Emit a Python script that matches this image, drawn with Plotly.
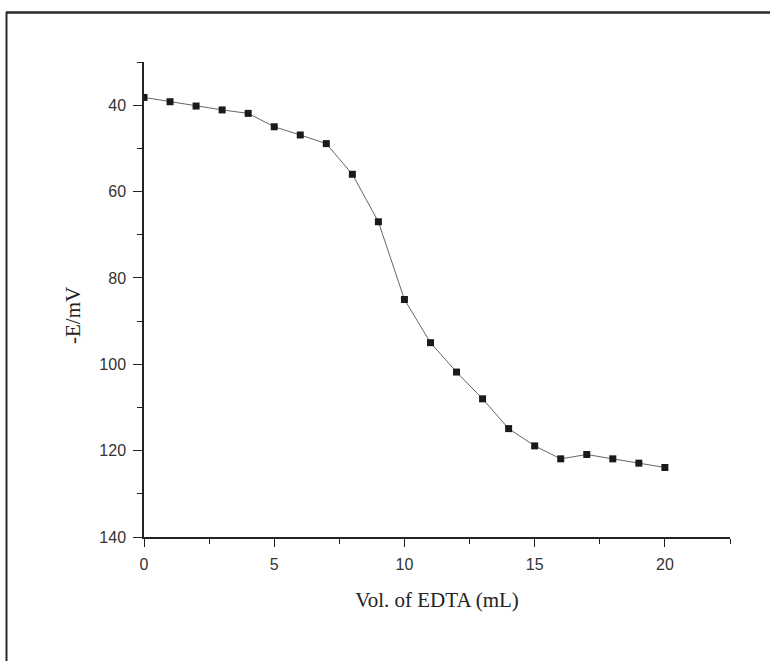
import plotly.graph_objects as go

vol_ml = [0, 1, 2, 3, 4, 5, 6, 7, 8, 9, 10, 11, 12, 13, 14, 15, 16, 17, 18, 19, 20]
neg_e_mv = [38.2, 39.2, 40.2, 41.1, 41.9, 45.0, 46.9, 48.9, 56.0, 67.0, 85.0, 95.0, 101.8, 108.0, 114.9, 118.9, 121.9, 120.9, 121.9, 122.9, 123.9]
x_ticks = [0, 5, 10, 15, 20]
y_ticks = [40, 60, 80, 100, 120, 140]

W, H = 770, 661
L, R, T, B = 144, 40, 62, 124

fig = go.Figure()
fig.add_trace(go.Scatter(
    x=vol_ml, y=neg_e_mv, mode="lines+markers",
    line=dict(color="#666666", width=1),
    marker=dict(symbol="square", size=7, color="#1a1a1a"),
    showlegend=False,
))

axis_font = dict(family="Liberation Sans, Arial, sans-serif", size=16, color="#333333")
title_font = dict(family="Liberation Serif, Times New Roman, serif", size=21, color="#222222")

fig.update_layout(
    width=W, height=H,
    margin=dict(l=L, r=R, t=T, b=B, pad=0),
    paper_bgcolor="white", plot_bgcolor="white",
    xaxis=dict(
        range=[0, 22.5], tickvals=x_ticks, ticks="outside", ticklen=8, tickwidth=1.2,
        tickcolor="#222222", showline=True, linecolor="#222222", linewidth=1.5,
        showgrid=False, zeroline=False, tickfont=axis_font, ticklabelstandoff=4,
        minor=dict(tickvals=[2.5, 7.5, 12.5, 17.5, 22.5], ticks="outside", ticklen=5, tickcolor="#222222"),
        title=dict(text="Vol. of EDTA (mL)", font=title_font, standoff=20),
    ),
    yaxis=dict(
        range=[140, 30], tickvals=y_ticks, ticks="outside", ticklen=9, tickwidth=1.2,
        tickcolor="#222222", showline=True, linecolor="#222222", linewidth=1.5,
        showgrid=False, zeroline=False, tickfont=axis_font, ticklabelstandoff=4,
        minor=dict(tickvals=[30, 50, 70, 90, 110, 130], ticks="outside", ticklen=5, tickcolor="#222222"),
    ),
)

pw = W - L - R
ph = H - T - B
def px_x(p):
    return (p - L) / pw
def px_y(p):
    return (H - B - p) / ph

fig.add_annotation(text="-E/mV", xref="paper", yref="paper",
                   x=px_x(73), y=px_y(316), xanchor="center", yanchor="middle",
                   textangle=-90, showarrow=False, font=title_font)

# scanned page frame (top and left edges)
fig.add_shape(type="line", xref="paper", yref="paper",
              x0=px_x(6), x1=px_x(770), y0=px_y(12.5), y1=px_y(12.5),
              line=dict(color="#2a2a2a", width=2.5))
fig.add_shape(type="line", xref="paper", yref="paper",
              x0=px_x(6.5), x1=px_x(6.5), y0=px_y(12), y1=px_y(661),
              line=dict(color="#2a2a2a", width=2))

fig.write_html("out.html")
